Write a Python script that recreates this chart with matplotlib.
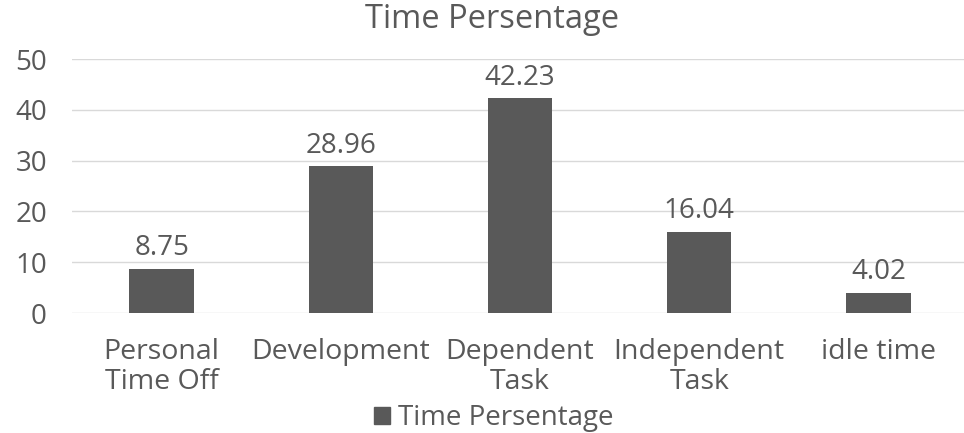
import matplotlib
matplotlib.use("Agg")
import matplotlib.pyplot as plt
from matplotlib.patches import Patch

categories = ["Personal\nTime Off", "Development", "Dependent\nTask", "Independent\nTask", "idle time"]
values = [8.75, 28.96, 42.23, 16.04, 4.02]
yticks = [0, 10, 20, 30, 40, 50]
series_name = "Time Persentage"

text_color = "#595959"
bar_color = "#595959"
grid_color = "#d9d9d9"

plt.rcParams["font.family"] = ["Open Sans", "DejaVu Sans"]

fig = plt.figure(figsize=(9.64, 4.33), dpi=100)
ax = fig.add_axes([72 / 964, 1 - 313 / 433, 896 / 964, 254 / 433])

x = list(range(len(categories)))
ax.bar(x, values, width=0.36, color=bar_color, zorder=3)
for xi, v in zip(x, values):
    ax.text(xi, v + 1.2, f"{v:.2f}", ha="center", va="bottom",
            fontsize=20, color=text_color)

ax.set_xlim(-0.5, len(categories) - 0.5)
ax.set_ylim(0, 50)
ax.set_yticks(yticks)
ax.set_yticklabels([str(t) for t in yticks], fontsize=20, color=text_color)
ax.set_xticks(x)
ax.set_xticklabels(categories, fontsize=20.5, color=text_color, linespacing=1.1)
ax.tick_params(axis="both", length=0)
ax.tick_params(axis="y", pad=18)
ax.tick_params(axis="x", pad=18)
ax.yaxis.grid(True, color=grid_color, linewidth=1, zorder=0)
for s in ax.spines.values():
    s.set_visible(False)

fig.text(492 / 964, 1 - 20 / 433, series_name, ha="center", va="center",
         fontsize=23.5, color=text_color)

fig.legend(handles=[Patch(color=bar_color, label=series_name)],
           loc="center", bbox_to_anchor=(494 / 964, 1 - 418 / 433), frameon=False,
           fontsize=20, labelcolor=text_color, handlelength=0.55,
           handleheight=0.55, handletextpad=0.3)

fig.savefig("out.png", dpi=100, facecolor="white")
